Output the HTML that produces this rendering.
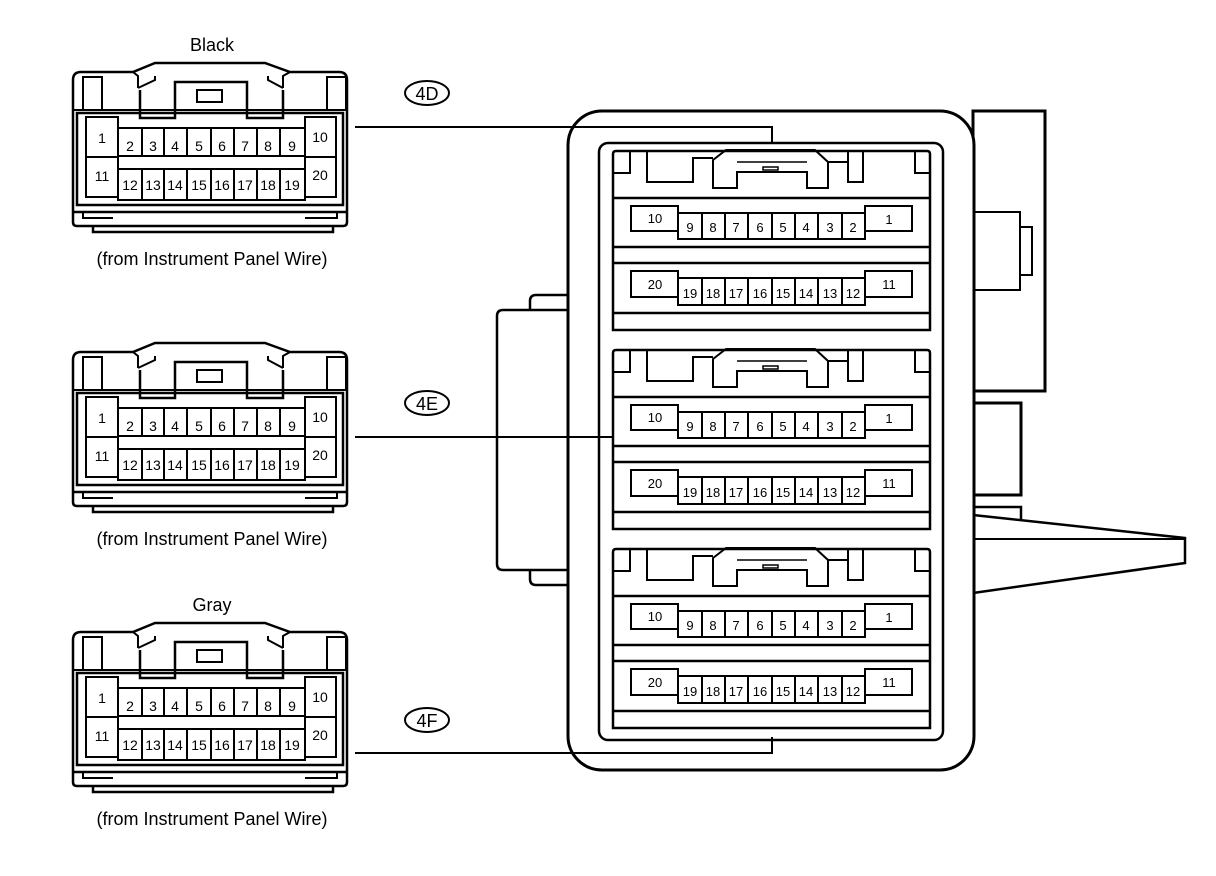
<!DOCTYPE html>
<html><head><meta charset="utf-8"><style>
html,body{margin:0;padding:0;background:#fff;}
svg{display:block;}
text{font-family:"Liberation Sans",Arial,sans-serif;fill:#000;}
</style></head><body>
<svg width="1216" height="876" viewBox="0 0 1216 876" xmlns="http://www.w3.org/2000/svg">
<defs>
<g id="lc" fill="none" stroke="#000" stroke-width="2.5">
  <!-- body -->
  <path d="M73,222 V80 Q73,72 81,72 H133 L155,63 H265 L290,72 H339 Q347,72 347,80 V222" />
  <path d="M133,72 L138,76 V88 M290,72 L283,76 V88" stroke-width="2"/>
  <path d="M140,90 V118 H175 V82 H247 V118 H283 V90" stroke-width="2.5"/>
  <path d="M138,88 L155,80 V76 M283,88 L268,80 V76" stroke-width="2"/>
  <rect x="197" y="90" width="25" height="12" stroke-width="2"/>
  <rect x="83" y="77" width="19" height="33" stroke-width="2"/>
  <rect x="327" y="77" width="19" height="33" stroke-width="2"/>
  <line x1="73" y1="110" x2="347" y2="110" stroke-width="2"/>
  <rect x="77" y="113" width="266" height="92" stroke-width="2.5"/>
  <!-- pin boxes -->
  <rect x="86" y="117" width="32" height="80" stroke-width="2"/>
  <line x1="86" y1="157" x2="118" y2="157" stroke-width="2"/>
  <rect x="305" y="117" width="31" height="80" stroke-width="2"/>
  <line x1="305" y1="157" x2="336" y2="157" stroke-width="2"/>
  <rect x="118" y="128" width="187" height="72" stroke-width="2"/>
  <line x1="118" y1="156" x2="305" y2="156" stroke-width="2"/>
  <line x1="118" y1="169" x2="305" y2="169" stroke-width="2"/>
  <path d="M142,128V156M164,128V156M187,128V156M211,128V156M234,128V156M257,128V156M280,128V156M142,169V200M164,169V200M187,169V200M211,169V200M234,169V200M257,169V200M280,169V200" stroke-width="2"/>
  <!-- bottom -->
  <line x1="73" y1="212" x2="347" y2="212" stroke-width="2.5"/>
  <path d="M73,222 Q73,226 77,226 H343 Q347,226 347,222" stroke-width="2.5"/>
  <path d="M83,212 V218 H113 M337,212 V218 H305" stroke-width="2"/>
  <path d="M93,226 V232 H333 V226" stroke-width="2.5"/>
</g>
<g id="lt" font-size="14" text-anchor="middle">
  <text x="102" y="143">1</text><text x="102" y="181">11</text>
  <text x="320" y="142">10</text><text x="320" y="180">20</text>
  <text x="130" y="151">2</text><text x="153" y="151">3</text><text x="175" y="151">4</text><text x="199" y="151">5</text><text x="222" y="151">6</text><text x="245" y="151">7</text><text x="268" y="151">8</text><text x="292" y="151">9</text>
  <text x="130" y="190">12</text><text x="153" y="190">13</text><text x="175" y="190">14</text><text x="199" y="190">15</text><text x="222" y="190">16</text><text x="245" y="190">17</text><text x="268" y="190">18</text><text x="292" y="190">19</text>
</g>
<g id="rc">
  <g fill="none" stroke="#000" stroke-width="2.5">
    <path d="M613,330 V154 Q613,151 616,151 H927 Q930,151 930,154 V330 Z"/>
    <path d="M630,151 V173 H613" stroke-width="2"/>
    <path d="M915,151 V173 H930" stroke-width="2"/>
    <path d="M647,151 V182 H693 V158 H713" stroke-width="2"/>
    <path d="M713,160 L726,150 H815 L828,162 V188 H807 V172 H737 V188 H713 Z" stroke-width="2"/>
    <path d="M737,162 H807 M763,167 H778 V170 H763Z" stroke-width="1.5"/>
    <path d="M828,162 H848 M848,151 V182 H863 V151" stroke-width="2"/>
    <line x1="613" y1="198" x2="930" y2="198"/>
    <line x1="613" y1="247" x2="930" y2="247"/>
    <line x1="613" y1="263" x2="930" y2="263"/>
    <line x1="613" y1="313" x2="930" y2="313"/>
    <g stroke-width="2">
      <rect x="631" y="206" width="47" height="25"/>
      <rect x="865" y="206" width="47" height="25"/>
      <rect x="678" y="213" width="187" height="26"/>
      <path d="M702,213V239M725,213V239M748,213V239M772,213V239M795,213V239M818,213V239M842,213V239"/>
      <rect x="631" y="271" width="47" height="26"/>
      <rect x="865" y="271" width="47" height="26"/>
      <rect x="678" y="278" width="187" height="27"/>
      <path d="M702,278V305M725,278V305M748,278V305M772,278V305M795,278V305M818,278V305M842,278V305"/>
    </g>
  </g>
  <g font-size="13" text-anchor="middle">
    <text x="655" y="223">10</text><text x="889" y="224">1</text>
    <text x="690" y="232">9</text><text x="713" y="232">8</text><text x="736" y="232">7</text><text x="760" y="232">6</text><text x="783" y="232">5</text><text x="806" y="232">4</text><text x="830" y="232">3</text><text x="853" y="232">2</text>
    <text x="655" y="289">20</text><text x="889" y="289">11</text>
    <text x="690" y="298">19</text><text x="713" y="298">18</text><text x="736" y="298">17</text><text x="760" y="298">16</text><text x="783" y="298">15</text><text x="806" y="298">14</text><text x="830" y="298">13</text><text x="853" y="298">12</text>
  </g>
</g>
</defs>

<!-- left connectors -->
<use href="#lc"/><use href="#lt"/>
<use href="#lc" transform="translate(0,280)"/><use href="#lt" transform="translate(0,280)"/>
<use href="#lc" transform="translate(0,560)"/><use href="#lt" transform="translate(0,560)"/>
<g font-size="18" text-anchor="middle">
  <text x="212" y="51">Black</text>
  <text x="212" y="611">Gray</text>
  <text x="212" y="265">(from Instrument Panel Wire)</text>
  <text x="212" y="545">(from Instrument Panel Wire)</text>
  <text x="212" y="825">(from Instrument Panel Wire)</text>
</g>

<!-- right body -->
<g fill="none" stroke="#000" stroke-width="3">
  <rect x="973" y="111" width="72" height="280"/>
  <rect x="973" y="212" width="47" height="78" stroke-width="2"/>
  <rect x="1020" y="227" width="12" height="48" stroke-width="2"/>
  <rect x="973" y="403" width="48" height="92"/>
  <path d="M973,507 H1021 V520" stroke-width="2.5"/>
  <path d="M973,515 L1185,538 V563 L973,593" stroke-width="2.5"/>
  <line x1="973" y1="539" x2="1185" y2="539" stroke-width="2"/>
  <path d="M530,310 V301 Q530,295 536,295 H568" stroke-width="2.5"/>
  <path d="M568,310 H503 Q497,310 497,316 V564 Q497,570 503,570 H568" stroke-width="2.5"/>
  <path d="M530,570 V579 Q530,585 536,585 H568" stroke-width="2.5"/>
  <rect x="568" y="111" width="406" height="659" rx="34" ry="34" fill="#fff"/>
  <rect x="599" y="143" width="344" height="597" rx="9" ry="9" stroke-width="2.5"/>
</g>
<use href="#rc"/>
<use href="#rc" transform="translate(0,199)"/>
<use href="#rc" transform="translate(0,398)"/>

<!-- connector lines -->
<g fill="none" stroke="#000" stroke-width="2">
  <path d="M355,127 H772 V143"/>
  <line x1="355" y1="437" x2="612" y2="437"/>
  <path d="M355,753 H772 V737"/>
  <ellipse cx="427" cy="93" rx="22" ry="12"/>
  <ellipse cx="427" cy="403" rx="22" ry="12"/>
  <ellipse cx="427" cy="720" rx="22" ry="12"/>
</g>
<g font-size="18" text-anchor="middle">
  <text x="427" y="100">4D</text>
  <text x="427" y="410">4E</text>
  <text x="427" y="727">4F</text>
</g>
</svg>
</body></html>
